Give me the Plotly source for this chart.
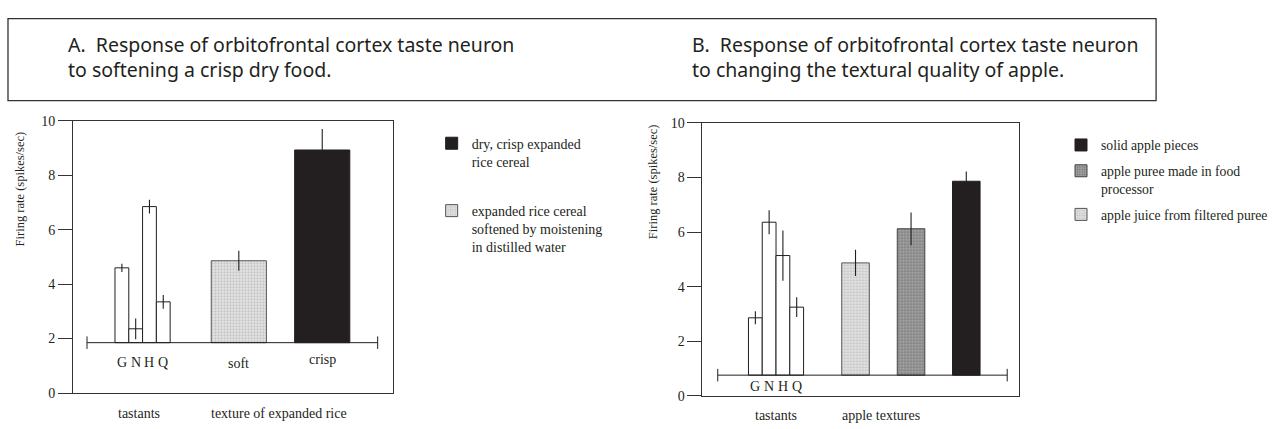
import plotly.graph_objects as go

# ---------------- data ----------------
tastant_labels = ["G", "N", "H", "Q"]

# Panel A: rice cereal
a_tastant_rate = [4.6, 2.36, 6.85, 3.35]
a_tastant_err = [0.15, 0.38, 0.25, 0.25]
a_texture_labels = ["soft", "crisp"]
a_texture_rate = [4.86, 8.93]
a_texture_err = [0.37, 0.77]
a_legend_names = ["dry, crisp expanded<br>rice cereal",
                  "expanded rice cereal<br>softened by moistening<br>in distilled water"]

# Panel B: apple
b_tastant_rate = [2.86, 6.36, 5.14, 3.25]
b_tastant_err = [0.24, 0.44, 0.92, 0.36]
b_texture_rate = [4.87, 6.12, 7.86]        # juice, puree, solid
b_texture_err = [0.48, 0.60, 0.36]
b_legend_names = ["apple juice from filtered puree",
                  "apple puree made in food<br>processor",
                  "solid apple pieces"]

y_ticks = [0, 2, 4, 6, 8, 10]

# ---------------- layout constants ----------------
W, H = 1273, 429
SERIF = "Liberation Serif"
INK = "#231f20"

A_BASE = 1.85
B_BASE = 0.76

def px(x):
    return x / W

def py(y):
    return 1 - y / H

fig = go.Figure()

def add_bars(xaxis, yaxis, xs, vals, errs, base, width, marker, name=None,
             legend=None, group=None, rank=None):
    fig.add_trace(go.Bar(
        x=xs, y=[v - base for v in vals], base=base, width=width,
        xaxis=xaxis, yaxis=yaxis,
        marker=marker,
        error_y=dict(type="data", array=errs, color=INK, thickness=1.1, width=0),
        name=name or "", showlegend=name is not None,
        legend=legend, legendgroup=group, legendrank=rank,
        hoverinfo="skip",
    ))

white_mk = dict(color="white", line=dict(color=INK, width=1))
black_mk = dict(color=INK, line=dict(color=INK, width=1))
light_mk = dict(color="#e4e4e4", line=dict(color="#555", width=1),
                pattern=dict(shape=".", fgcolor="#9a9a9a", bgcolor="#e2e2e2",
                             size=3, solidity=0.35))
dark_mk = dict(color="#8a8a8a", line=dict(color="#444", width=1),
               pattern=dict(shape=".", fgcolor="#4a4a4a", bgcolor="#a8a8a8",
                            size=3, solidity=0.45))

# Panel A bars
add_bars("x", "y", [0, 1, 2, 3], a_tastant_rate, a_tastant_err, A_BASE, 1, white_mk)
add_bars("x", "y", [8.48], [a_texture_rate[0]], [a_texture_err[0]], A_BASE, 4,
         light_mk, a_legend_names[1], "legend", "a2", 2)
add_bars("x", "y", [14.53], [a_texture_rate[1]], [a_texture_err[1]], A_BASE, 4,
         black_mk, a_legend_names[0], "legend", "a1", 1)

# Panel B bars
add_bars("x2", "y2", [0, 1, 2, 3], b_tastant_rate, b_tastant_err, B_BASE, 1, white_mk)
add_bars("x2", "y2", [7.27], [b_texture_rate[0]], [b_texture_err[0]], B_BASE, 2,
         light_mk, b_legend_names[0], "legend2", "b3", 3)
add_bars("x2", "y2", [11.3], [b_texture_rate[1]], [b_texture_err[1]], B_BASE, 2,
         dark_mk, b_legend_names[1], "legend2", "b2", 2)
add_bars("x2", "y2", [15.31], [b_texture_rate[2]], [b_texture_err[2]], B_BASE, 2,
         black_mk, b_legend_names[2], "legend2", "b1", 1)

axis_common = dict(showgrid=False, zeroline=False, showline=True, mirror=True,
                   linecolor="#333", linewidth=1)
yaxis_common = dict(axis_common, range=[0, 10], tickvals=y_ticks, ticks="outside",
                    ticklen=14, tickcolor="#333", tickwidth=1,
                    tickfont=dict(family=SERIF, size=14, color=INK))
xaxis_common = dict(axis_common, showticklabels=False, ticks="")

fig.update_layout(
    width=W, height=H, margin=dict(l=0, r=0, t=0, b=0),
    paper_bgcolor="white", plot_bgcolor="white",
    barmode="overlay", showlegend=True,
    xaxis=dict(xaxis_common, domain=[px(73), px(393)], range=[-3.55, 19.64], anchor="y"),
    yaxis=dict(yaxis_common, domain=[py(400), py(118)], anchor="x"),
    xaxis2=dict(xaxis_common, domain=[px(703), px(1020)], range=[-3.84, 19.15], anchor="y2"),
    yaxis2=dict(yaxis_common, domain=[py(403), py(120)], anchor="x2"),
    legend=dict(x=px(432), y=py(125), xanchor="left", yanchor="top",
                traceorder="grouped", tracegroupgap=28, itemwidth=30, valign="top",
                bgcolor="rgba(0,0,0,0)",
                font=dict(family=SERIF, size=14, color=INK)),
    legend2=dict(x=px(1062), y=py(127), xanchor="left", yanchor="top",
                 traceorder="grouped", tracegroupgap=5, itemwidth=30, valign="top",
                 bgcolor="rgba(0,0,0,0)",
                 font=dict(family=SERIF, size=13.7, color=INK)),
)

shapes = []
annotations = []

# Inner baselines with end caps
def baseline(xref, yref, x0, x1, base, cap):
    shapes.append(dict(type="line", xref=xref, yref=yref, x0=x0, x1=x1, y0=base, y1=base,
                       line=dict(color=INK, width=1)))
    for xe in (x0, x1):
        shapes.append(dict(type="line", xref=xref, yref=yref, x0=xe, x1=xe,
                           y0=base - cap, y1=base + cap, line=dict(color=INK, width=1)))

baseline("x", "y", -2.53, 18.55, A_BASE, 0.23)
baseline("x2", "y2", -2.73, 18.28, B_BASE, 0.23)

# Title box
shapes.append(dict(type="rect", xref="paper", yref="paper",
                   x0=px(8), x1=px(1157), y0=py(97), y1=py(12),
                   line=dict(color="#333", width=1.3), fillcolor="rgba(0,0,0,0)"))

title_font = dict(family="Noto Sans", size=19.5, color=INK)
annotations += [
    dict(xref="paper", yref="paper", x=px(66), y=py(52), xanchor="left", yanchor="middle",
         text="A.\u00a0 Response of orbitofrontal cortex taste neuron<br>to softening a crisp dry food.",
         showarrow=False, align="left", font=title_font),
    dict(xref="paper", yref="paper", x=px(691), y=py(52), xanchor="left", yanchor="middle",
         text="B.\u00a0 Response of orbitofrontal cortex taste neuron<br>to changing the textural quality of apple.",
         showarrow=False, align="left", font=title_font),
]

lab_font = dict(family=SERIF, size=14, color=INK)

def note(xref, yref, x, y, text, yshift=0, font=lab_font, angle=0):
    annotations.append(dict(xref=xref, yref=yref, x=x, y=y, yshift=yshift, text=text,
                            xanchor="center", yanchor="middle", textangle=angle,
                            showarrow=False, font=font))

# Category labels under the baselines
for i, lab in enumerate(tastant_labels):
    note("x", "y", i, A_BASE, lab, yshift=-20)
    note("x2", "y2", i, B_BASE, lab, yshift=-11)
note("x", "y", 8.48, A_BASE, a_texture_labels[0], yshift=-21)
note("x", "y", 14.53, A_BASE, a_texture_labels[1], yshift=-17)

# Group labels below the panels
note("paper", "paper", px(139), py(421), "tastants")
note("paper", "paper", px(279), py(421), "texture of expanded rice")
note("paper", "paper", px(777), py(423), "tastants")
note("paper", "paper", px(882), py(423), "apple textures")

# Y-axis titles
ytitle_font = dict(family=SERIF, size=12.5, color=INK)
note("paper", "paper", px(20), py(188), "Firing rate (spikes/sec)", font=ytitle_font, angle=-90)
note("paper", "paper", px(653), py(181), "Firing rate (spikes/sec)", font=ytitle_font, angle=-90)

fig.update_layout(shapes=shapes, annotations=annotations)
fig.write_html("out.html")
